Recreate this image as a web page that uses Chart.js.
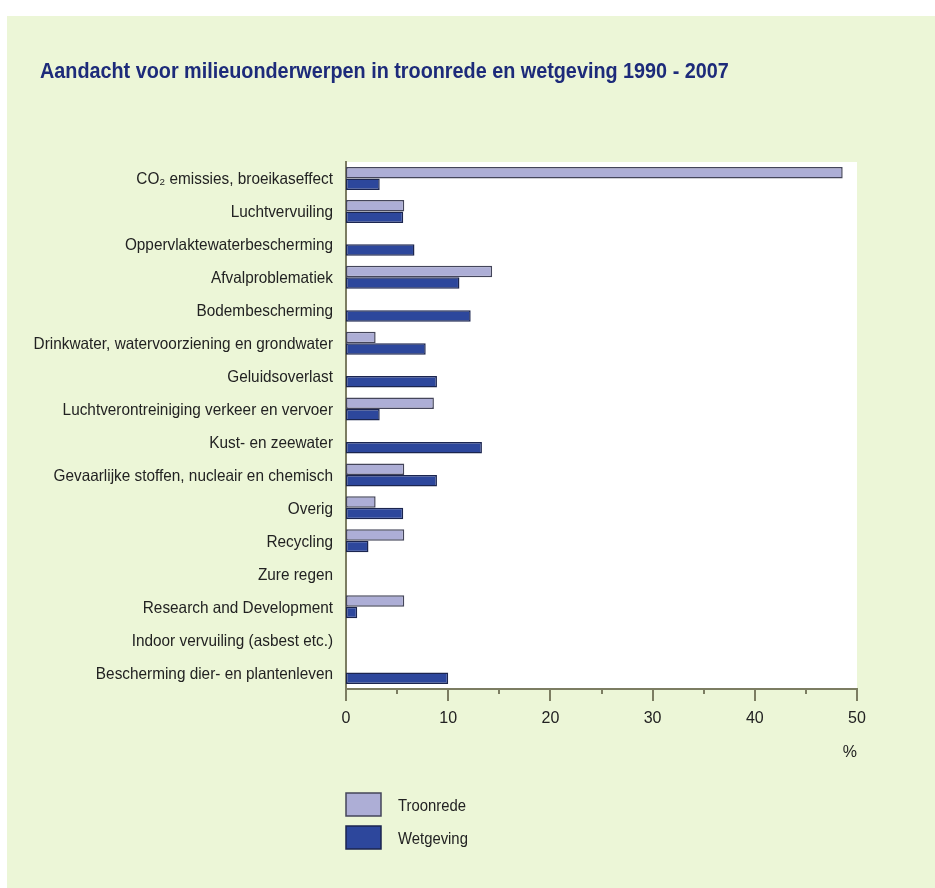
<!DOCTYPE html>
<html>
<head>
<meta charset="utf-8">
<script src="https://cdn.jsdelivr.net/npm/chart.js@4.4.1/dist/chart.umd.min.js"></script>
<style>
  html, body { margin: 0; padding: 0; background: #ffffff; }
  #wrap { position: absolute; left: 0; top: 0; width: 935px; height: 888px; }
</style>
</head>
<body>
<div id="wrap"><canvas id="chart" width="935" height="888"></canvas></div>
<script>
// Onderwerpen (van boven naar beneden)
const categories = [
  'CO\u2082 emissies, broeikaseffect',
  'Luchtvervuiling',
  'Oppervlaktewaterbescherming',
  'Afvalproblematiek',
  'Bodembescherming',
  'Drinkwater, watervoorziening en grondwater',
  'Geluidsoverlast',
  'Luchtverontreiniging verkeer en vervoer',
  'Kust- en zeewater',
  'Gevaarlijke stoffen, nucleair en chemisch',
  'Overig',
  'Recycling',
  'Zure regen',
  'Research and Development',
  'Indoor vervuiling (asbest etc.)',
  'Bescherming dier- en plantenleven'
];

// Aandeel in % per bron
const troonrede = [48.6, 5.7, 0, 14.3, 0, 2.9, 0, 8.6, 0, 5.7, 2.9, 5.7, 0, 5.7, 0, 0];
const wetgeving = [3.3, 5.6, 6.7, 11.1, 12.2, 7.8, 8.9, 3.3, 13.3, 8.9, 5.6, 2.2, 0, 1.1, 0, 10.0];

const seriesNames = ['Troonrede', 'Wetgeving'];
const xTickLabels = [0, 10, 20, 30, 40, 50];
const titleText = 'Aandacht voor milieuonderwerpen in troonrede en wetgeving 1990 - 2007';

const FONT = "'Liberation Sans', Arial, sans-serif";
const AXIS_COLOR = '#7c7d62';
const TEXT_COLOR = '#222222';

// Text in a slightly condensed style (horizontal squeeze)
function drawNarrow(ctx, text, x, y, align, font, color, sx) {
  ctx.save();
  ctx.translate(x, y);
  ctx.scale(sx, 1);
  ctx.font = font;
  ctx.fillStyle = color;
  ctx.textAlign = align;
  ctx.textBaseline = 'alphabetic';
  ctx.fillText(text, 0, 0);
  ctx.restore();
}

// Page background, green panel and white plot area
const panelPlugin = {
  id: 'panel',
  beforeDraw(chart) {
    const { ctx, chartArea: a } = chart;
    ctx.save();
    ctx.fillStyle = '#ffffff';
    ctx.fillRect(0, 0, chart.width, chart.height);
    ctx.fillStyle = '#ecf6d7';
    ctx.fillRect(7, 16, chart.width - 7, chart.height - 16);
    ctx.fillStyle = '#ffffff';
    ctx.fillRect(a.left, a.top, a.right - a.left, a.bottom - a.top);
    ctx.restore();
  }
};

// Title, category labels, x tick marks and the vertical legend
const decorPlugin = {
  id: 'decor',
  afterDraw(chart) {
    const { ctx, chartArea: a } = chart;
    const xs = chart.scales.x;
    const ys = chart.scales.y;

    drawNarrow(ctx, titleText, 40, 78, 'left', 'bold 22px ' + FONT, '#1d2b7a', 0.9);

    chart.data.labels.forEach((lab, i) => {
      const py = ys.getPixelForTick(i);
      drawNarrow(ctx, lab, ys.right - 13, py + 6, 'right', '16.5px ' + FONT, TEXT_COLOR, 0.93);
    });

    ctx.save();
    ctx.strokeStyle = AXIS_COLOR;
    ctx.lineWidth = 2;
    for (let v = xs.min; v <= xs.max; v += 5) {
      const px = Math.round(xs.getPixelForValue(v));
      const len = (v % 10 === 0) ? 12 : 5;
      ctx.beginPath();
      ctx.moveTo(px, a.bottom);
      ctx.lineTo(px, a.bottom + len);
      ctx.stroke();
    }
    ctx.restore();

    chart.data.datasets.forEach((ds, i) => {
      const bx = a.left;
      const by = a.bottom + 104 + i * 33;
      ctx.save();
      ctx.fillStyle = ds.backgroundColor;
      ctx.fillRect(bx, by, 35, 23);
      ctx.strokeStyle = ds.borderColor;
      ctx.lineWidth = 1.5;
      ctx.strokeRect(bx, by, 35, 23);
      ctx.restore();
      drawNarrow(ctx, ds.label, bx + 52, by + 18, 'left', '16.5px ' + FONT, TEXT_COLOR, 0.9);
    });
  }
};

new Chart(document.getElementById('chart'), {
  type: 'bar',
  data: {
    labels: categories,
    datasets: [
      {
        label: seriesNames[0],
        data: troonrede,
        backgroundColor: '#adaed6',
        borderColor: '#44455a',
        borderWidth: 1.5,
        borderSkipped: false
      },
      {
        label: seriesNames[1],
        data: wetgeving,
        backgroundColor: '#2d479c',
        borderColor: '#1b254f',
        borderWidth: 1.5,
        borderSkipped: false
      }
    ]
  },
  options: {
    indexAxis: 'y',
    responsive: false,
    animation: false,
    devicePixelRatio: 1,
    datasets: { bar: { categoryPercentage: 0.7, barPercentage: 1.0 } },
    layout: { padding: { left: 40, right: 78, top: 162, bottom: 126 } },
    plugins: {
      legend: { display: false },
      tooltip: { enabled: false },
      title: { display: false }
    },
    scales: {
      y: {
        grid: { display: false, drawTicks: false },
        border: { display: true, color: AXIS_COLOR, width: 2 },
        ticks: { display: false },
        afterFit(scale) { scale.width = 306; }
      },
      x: {
        min: 0,
        max: 50,
        grid: { display: false, drawTicks: false },
        border: { display: true, color: AXIS_COLOR, width: 2 },
        ticks: {
          stepSize: 5,
          color: TEXT_COLOR,
          font: { family: FONT, size: 16 },
          padding: 20,
          maxRotation: 0,
          autoSkip: false,
          callback: (v) => (xTickLabels.includes(v) ? String(v) : '')
        },
        title: {
          display: true,
          text: '%',
          align: 'end',
          color: TEXT_COLOR,
          font: { family: FONT, size: 16 },
          padding: { top: 0, bottom: 0 }
        },
        afterFit(scale) { scale.height = 73; }
      }
    }
  },
  plugins: [panelPlugin, decorPlugin]
});
</script>
</body>
</html>
